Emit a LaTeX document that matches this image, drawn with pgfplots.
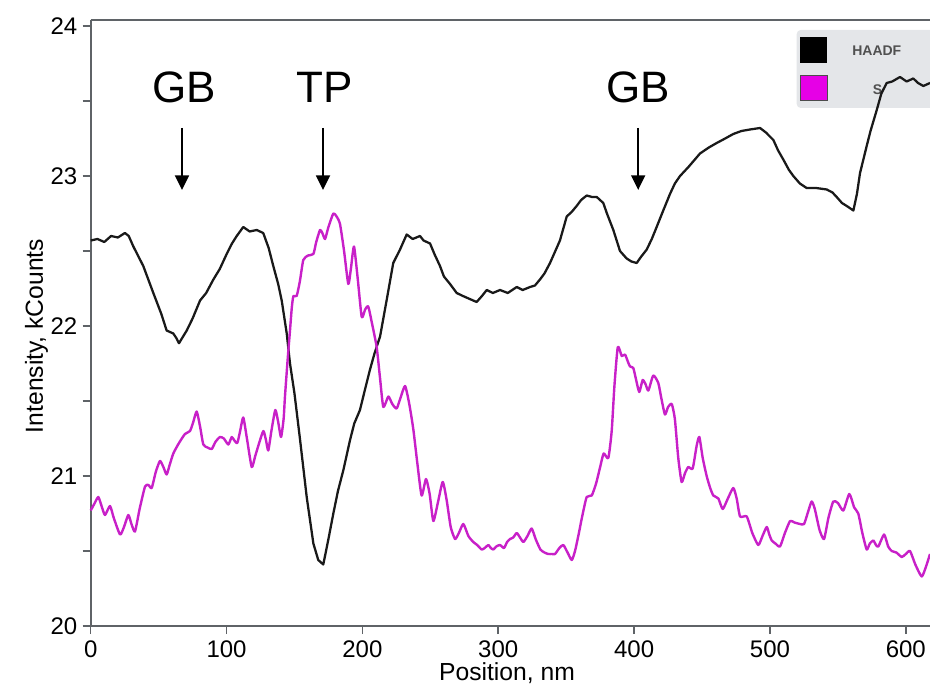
\documentclass[border=0pt]{standalone}
\usepackage{pgfplots}
\pgfplotsset{compat=1.18}
\usepackage{fontspec}
\setmainfont{Liberation Sans}
\usetikzlibrary{arrows.meta}
\definecolor{axiscol}{RGB}{95,99,103}
\definecolor{scol}{RGB}{200,32,200}
\definecolor{legfill}{RGB}{228,230,233}
\definecolor{legmag}{RGB}{230,0,230}
\definecolor{legtxt}{RGB}{80,80,80}

\pgfplotstableread{
x y
0 22.57
5 22.58
10 22.56
15 22.60
20 22.59
25.2 22.62
28 22.60
31.4 22.53
38.7 22.40
46.1 22.22
52 22.08
55.9 21.97
60.8 21.95
63 21.92
65 21.885
68 21.93
70.7 21.97
75 22.05
80.5 22.17
85 22.22
90.3 22.31
95 22.38
100.1 22.48
104 22.55
107.5 22.60
112.3 22.66
117 22.63
122.2 22.64
127 22.62
131 22.52
134.4 22.40
138 22.28
140.6 22.17
144.3 21.95
146.7 21.75
150 21.55
154 21.25
159 20.86
163.9 20.55
167.5 20.44
171.2 20.41
175 20.58
178.6 20.75
182 20.90
186 21.04
190.9 21.24
194 21.35
198.2 21.44
202 21.58
205.6 21.71
209 21.82
213 21.93
218 22.18
222.7 22.42
227.7 22.51
232.6 22.61
237 22.58
242.4 22.60
245 22.57
249.8 22.55
253 22.48
257.1 22.40
260 22.33
264.5 22.28
269.4 22.22
274 22.20
279 22.18
284.1 22.16
288 22.20
291.5 22.24
296 22.22
301.3 22.24
307 22.22
313.6 22.26
318 22.24
323.4 22.26
327 22.27
330.7 22.31
334 22.35
338.1 22.42
342 22.50
345.4 22.57
350.4 22.73
354 22.76
357.7 22.80
361 22.84
365.1 22.87
369 22.86
372.5 22.86
377.3 22.82
380 22.75
384.7 22.64
389.6 22.50
394.5 22.45
398 22.43
401.9 22.42
405 22.46
409.3 22.51
413 22.58
416.6 22.66
421 22.76
426.4 22.88
430 22.95
433.8 23.00
440 23.06
448.5 23.15
455 23.19
460.8 23.22
467 23.25
473 23.28
479 23.30
485.3 23.31
492.7 23.32
497 23.29
502.5 23.24
506 23.17
509.8 23.11
514 23.04
517.2 23.00
522 22.95
527 22.92
534 22.92
541.8 22.91
546 22.89
549.1 22.86
553 22.82
556.5 22.80
561.4 22.77
564 22.88
566.3 23.02
571.2 23.20
574 23.30
578.6 23.44
582 23.55
585.9 23.62
590 23.63
595.7 23.66
600.6 23.63
605.5 23.65
609 23.62
612.9 23.60
617.8 23.62
}\haadf

\pgfplotstableread{
x y
0 20.77
3 20.82
5.6 20.86
8 20.80
10.5 20.74
14.2 20.80
17 20.72
21.6 20.61
24.5 20.66
27.7 20.74
30 20.68
32.6 20.63
36 20.78
40 20.93
42.5 20.94
44.9 20.92
48 21.03
51 21.10
53.5 21.06
55.9 21.01
58 21.07
60.8 21.15
65 21.22
69.4 21.28
73.1 21.30
75.5 21.36
78 21.43
80.5 21.33
82.9 21.21
86 21.19
89.1 21.18
92 21.23
95.2 21.26
98 21.25
101.3 21.21
103.8 21.26
105.5 21.24
107.9 21.22
110 21.30
112.3 21.39
115 21.25
118.5 21.06
121 21.13
124 21.22
127.1 21.30
129 21.24
130.7 21.17
133 21.30
135.9 21.44
138 21.36
140.1 21.26
142 21.38
143 21.53
145 21.78
146.7 21.97
148 22.12
149.2 22.20
151.6 22.20
154 22.30
156.5 22.44
160 22.47
163.9 22.48
166 22.56
168.8 22.64
170.5 22.62
172.5 22.58
175 22.66
178.6 22.75
181 22.73
183.5 22.68
186.5 22.50
189.6 22.28
191.5 22.38
193.8 22.53
196.5 22.32
199.5 22.06
202 22.11
204.3 22.13
207 22.02
210.5 21.86
213 21.65
215.4 21.46
219.1 21.53
222 21.48
225.2 21.45
228 21.52
231.4 21.60
234.5 21.48
237.5 21.31
240.5 21.08
243.6 20.87
246.8 20.98
249.5 20.88
252.2 20.70
255.5 20.82
259.1 20.96
262 20.84
265 20.66
268.2 20.58
271 20.62
274.3 20.68
278 20.60
281.6 20.56
284.5 20.54
287.8 20.51
290 20.52
292.7 20.54
294.5 20.52
296.4 20.51
298.5 20.53
301.3 20.54
304.2 20.52
306.5 20.56
308.7 20.58
311 20.59
313.6 20.62
316 20.59
318.5 20.56
321.5 20.60
324.6 20.65
327.5 20.58
331 20.51
334 20.49
336.8 20.48
339.5 20.48
341.8 20.48
345 20.52
347.9 20.54
351 20.49
354.1 20.44
356.5 20.50
358.9 20.60
362 20.74
365.1 20.86
368.8 20.87
372 20.95
375 21.06
377.6 21.15
381 21.12
383.5 21.30
385.5 21.60
388 21.86
390.9 21.80
393.3 21.81
395.5 21.76
397 21.73
399.4 21.72
401.5 21.64
403.8 21.56
406.3 21.64
408.5 21.61
410.5 21.57
414.1 21.67
417.8 21.62
420 21.52
422.7 21.41
425 21.46
427.7 21.48
430 21.38
432.5 21.12
435 20.96
437.5 21.02
439.9 21.06
443.1 21.05
446 21.20
448 21.26
450.5 21.12
453.4 21.00
456 20.92
458.3 20.87
462 20.85
465.2 20.78
469 20.85
473 20.92
475.5 20.85
478 20.73
482.9 20.73
487 20.62
491.4 20.54
494.5 20.60
497.6 20.66
499.5 20.61
501.3 20.57
504 20.55
507.4 20.53
511 20.62
514.8 20.70
518 20.69
522.1 20.68
525.1 20.68
528 20.76
530.7 20.83
533 20.78
536.5 20.64
539.8 20.58
543 20.72
546.6 20.83
550 20.82
554 20.77
558.4 20.88
562 20.79
565 20.75
568 20.62
571.2 20.51
573.5 20.55
576.1 20.57
578 20.54
579.8 20.53
584 20.61
587 20.53
589.6 20.50
593 20.49
597 20.46
600 20.48
603.1 20.50
607 20.41
611.7 20.33
615 20.40
617.8 20.48
}\sdata

\begin{document}
\begin{tikzpicture}
\useasboundingbox (-68.025pt,-46.5pt) rectangle (629.475pt,469.5pt);
% legend box (drawn underneath the curves)
\fill[legfill, rounded corners=3pt] (529.5pt,388.5pt) rectangle (640pt,447pt);
\fill[black] (532pt,422.25pt) rectangle (552.2pt,441.75pt);
\fill[legmag] (532pt,394.5pt) rectangle (552.2pt,413.25pt);
\draw[black!70, line width=0.5pt] (532pt,394.5pt) rectangle (552.2pt,413.25pt);
\node[anchor=west, text=legtxt, font=\fontsize{10.5}{12}\selectfont\bfseries, inner sep=0pt] at (571pt,431.25pt) {HAADF};
\node[text=legtxt, font=\fontsize{10.5}{12}\selectfont\bfseries, inner sep=0pt] at (590.1pt,402pt) {S};
\begin{axis}[
  at={(0pt,0pt)}, anchor=south west,
  scale only axis,
  width=629.475pt, height=454.5pt,
  xmin=0, xmax=617.8, ymin=20, ymax=24.04,
  axis x line*=bottom, axis y line*=left,
  axis line style={axiscol, line width=1.5pt},
  every tick/.style={axiscol, line width=1.2pt},
  tick align=outside,
  major tick length=6pt,
  minor tick length=6pt,
  xtick={0,100,200,300,400,500,600},
  ytick={20,21,22,23,24},
  minor ytick={20.5,21.5,22.5,23.5},
  /pgf/number format/assume math mode=true,
  tick label style={font=\fontsize{18}{20}\selectfont, text=black},
  xticklabel style={yshift=-1.5pt},
  yticklabel style={xshift=-0.5pt},
  xlabel={Position, nm},
  ylabel={Intensity, kCounts},
  every axis x label/.style={at={(axis description cs:0.496,-0.0776)}, anchor=center, font=\fontsize{18.5}{21}\selectfont},
  every axis y label/.style={at={(axis description cs:-0.0645,0.4785)}, rotate=90, anchor=center, font=\fontsize{18.5}{21}\selectfont},
  clip=false,
]
\draw[axiscol, line width=1.5pt] (rel axis cs:0,1) -- (rel axis cs:1,1);
\addplot[black!90, line width=1.7pt, line join=round] table[x=x,y=y] {\haadf};
\addplot[scol, line width=1.8pt, smooth, tension=0.35, line join=round] table[x=x,y=y] {\sdata};
\node[font=\fontsize{33}{36}\selectfont] at (axis cs:68.7,23.593) {GB};
\node[font=\fontsize{33}{36}\selectfont] at (axis cs:172.4,23.593) {TP};
\node[font=\fontsize{33}{36}\selectfont] at (axis cs:403,23.593) {GB};
\draw[line width=1.4pt, -{Triangle[width=10.5pt,length=11pt]}] (axis cs:67.2,23.32) -- (axis cs:67.2,22.907);
\draw[line width=1.4pt, -{Triangle[width=10.5pt,length=11pt]}] (axis cs:171,23.32) -- (axis cs:171,22.907);
\draw[line width=1.4pt, -{Triangle[width=10.5pt,length=11pt]}] (axis cs:403,23.32) -- (axis cs:403,22.907);
\end{axis}
\end{tikzpicture}
\end{document}
